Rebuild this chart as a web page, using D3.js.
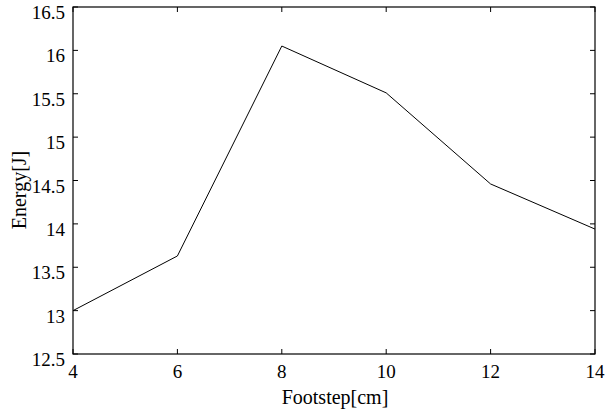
<!DOCTYPE html>
<html lang="en">
<head>
<meta charset="utf-8">
<title>energy vs footstep</title>
<script src="https://cdn.jsdelivr.net/npm/d3@7"></script>
<style>
  body { margin: 0; background: #fff; }
  text { font-family: "Liberation Serif", "Times New Roman", serif; fill: #000; }
</style>
</head>
<body>
<script>
// data
var footstep = [4, 6, 8, 10, 12, 14];
var energy = [13.0, 13.63, 16.05, 15.51, 14.46, 13.94];
var xTicks = [4, 6, 8, 10, 12, 14];
var yTicks = [12.5, 13, 13.5, 14, 14.5, 15, 15.5, 16, 16.5];

var w = 608, h = 413;
// plot box edges (note: "top" is taken by window.top)
var pLeft = 73, pRight = 595, pTop = 7, pBottom = 354;

var svg = d3.select("body").append("svg")
  .attr("width", w)
  .attr("height", h);

var x = d3.scaleLinear().domain([4, 14]).range([pLeft, pRight]);
var y = d3.scaleLinear().domain([12.5, 16.5]).range([pBottom, pTop]);

// ticks, pointing inward on all four sides
var tickLen = 5;
var g = svg.append("g").attr("stroke", "#000").attr("stroke-width", 1);
xTicks.forEach(function(t) {
  g.append("line").attr("x1", x(t)).attr("x2", x(t)).attr("y1", pBottom).attr("y2", pBottom - tickLen);
  g.append("line").attr("x1", x(t)).attr("x2", x(t)).attr("y1", pTop).attr("y2", pTop + tickLen);
});
yTicks.forEach(function(t) {
  g.append("line").attr("x1", pLeft).attr("x2", pLeft + tickLen).attr("y1", y(t)).attr("y2", y(t));
  g.append("line").attr("x1", pRight).attr("x2", pRight - tickLen).attr("y1", y(t)).attr("y2", y(t));
});

// frame
svg.append("rect")
  .attr("x", pLeft).attr("y", pTop)
  .attr("width", pRight - pLeft).attr("height", pBottom - pTop)
  .attr("fill", "none").attr("stroke", "#000").attr("stroke-width", 1.2);

// line
var line = d3.line()
  .x(function(d, i) { return x(footstep[i]); })
  .y(function(d) { return y(d); });

svg.append("path")
  .datum(energy)
  .attr("d", line)
  .attr("fill", "none")
  .attr("stroke", "#000")
  .attr("stroke-width", 1);

// tick labels
svg.selectAll(".xl")
  .data(xTicks)
  .enter().append("text")
  .attr("x", function(d) { return x(d); })
  .attr("y", 378)
  .attr("text-anchor", "middle")
  .attr("font-size", 19)
  .text(function(d) { return d; });

svg.selectAll(".yl")
  .data(yTicks)
  .enter().append("text")
  .attr("x", pLeft - 8)
  .attr("y", function(d) { return y(d) + 12; })
  .attr("text-anchor", "end")
  .attr("font-size", 19)
  .text(function(d) { return d; });

// axis titles
svg.append("text")
  .attr("x", 335)
  .attr("y", 404)
  .attr("text-anchor", "middle")
  .attr("font-size", 20)
  .text("Footstep[cm]");

svg.append("text")
  .attr("transform", "translate(26,190) rotate(-90)")
  .attr("text-anchor", "middle")
  .attr("font-size", 20)
  .text("Energy[J]");
</script>
</body>
</html>
